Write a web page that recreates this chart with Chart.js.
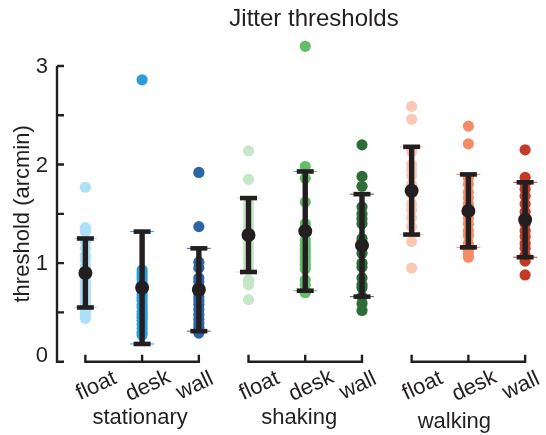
<!DOCTYPE html>
<html><head><meta charset="utf-8">
<script src="https://cdn.jsdelivr.net/npm/chart.js@4/dist/chart.umd.min.js"></script>
<style>html,body{margin:0;padding:0;background:#fff}#wrap{width:546px;height:435px}</style>
</head><body><div id="wrap"><canvas id="c" width="546" height="435"></canvas></div>
<script>
// ---------- data ----------
const chartTitle = 'Jitter thresholds';
const yAxisTitle = 'threshold (arcmin)';
const groups = ['stationary', 'shaking', 'walking'];
const conditions = ['float', 'desk', 'wall'];
const yTickLabels = [0, 1, 2, 3];

const stationaryFloat = [1.77, 1.36, 1.32, 1.22, 1.15, 1.08, 1.03, 0.97, 0.93, 0.88, 0.84, 0.80, 0.76, 0.72, 0.68, 0.64, 0.60, 0.56, 0.52, 0.48, 0.44];
const stationaryDesk  = [2.86, 0.93, 0.90, 0.87, 0.84, 0.80, 0.76, 0.72, 0.68, 0.65, 0.62, 0.58, 0.55, 0.51, 0.48, 0.45, 0.42, 0.38, 0.34, 0.30, 0.27];
const stationaryWall  = [1.92, 1.37, 1.01, 0.95, 0.85, 0.81, 0.76, 0.70, 0.66, 0.62, 0.58, 0.53, 0.48, 0.43, 0.39, 0.35, 0.31, 0.29];
const shakingFloat    = [2.14, 1.85, 1.60, 1.55, 1.50, 1.45, 1.40, 1.36, 1.30, 1.25, 1.20, 1.15, 1.10, 1.05, 1.00, 0.95, 0.83, 0.78, 0.63];
const shakingDesk     = [3.20, 1.98, 1.86, 1.62, 1.40, 1.30, 1.23, 1.18, 1.14, 1.10, 1.06, 1.02, 0.98, 0.94, 0.83, 0.78, 0.72, 0.70];
const shakingWall     = [2.20, 1.88, 1.78, 1.57, 1.50, 1.45, 1.40, 1.25, 1.20, 1.10, 1.00, 0.96, 0.85, 0.78, 0.75, 0.66, 0.59, 0.52];
const walkingFloat    = [2.59, 2.46, 2.13, 2.00, 1.95, 1.89, 1.80, 1.70, 1.60, 1.54, 1.46, 1.37, 1.22, 0.95];
const walkingDesk     = [2.39, 2.21, 1.86, 1.80, 1.72, 1.66, 1.60, 1.52, 1.46, 1.40, 1.33, 1.28, 1.20, 1.14, 1.10, 1.06];
const walkingWall     = [2.15, 1.87, 1.80, 1.75, 1.68, 1.60, 1.52, 1.46, 1.40, 1.33, 1.27, 1.20, 1.15, 1.08, 1.02, 0.88];

const means = [0.90, 0.75, 0.73, 1.285, 1.325, 1.18, 1.735, 1.53, 1.44];
const sds   = [0.35, 0.57, 0.42, 0.375, 0.605, 0.52, 0.445, 0.37, 0.38];

// ---------- styles ----------
const colors = ['#ace0f8', '#2b9ed9', '#2c63a9', '#c6e6c7', '#63bd68', '#2e6d39', '#fcc8b6', '#f58c67', '#c23b29'];
const ink = '#231f20';
const FONT = '"Liberation Sans", Arial, Helvetica, sans-serif';
const GROUP_GAP = 0.875;
const Y_AXIS_TOP = 3;      // axis line ends at 3
const Y_VIEW_TOP = 3.3;    // room for the outlier above the axis

const columns = [stationaryFloat, stationaryDesk, stationaryWall, shakingFloat, shakingDesk, shakingWall, walkingFloat, walkingDesk, walkingWall];
const posOf = (k) => Math.floor(k / 3) * (2 + GROUP_GAP) + (k % 3);

const datasets = [];
datasets.push({ label: 'mean', data: means.map((m, k) => ({ x: posOf(k), y: m })), pointRadius: 7, pointBackgroundColor: ink, pointBorderWidth: 0, showLine: false, order: 0, clip: false });
const capData = [];
means.forEach((m, k) => { capData.push({ x: posOf(k), y: m + sds[k] }); capData.push({ x: posOf(k), y: m - sds[k] }); });
datasets.push({ label: 'caps', data: capData, pointStyle: 'line', pointRadius: 8.5, pointBorderColor: ink, pointBorderWidth: 4.6, showLine: false, order: 1, clip: false });
const barData = [];
means.forEach((m, k) => { barData.push({ x: posOf(k), y: m - sds[k] }); barData.push({ x: posOf(k), y: m + sds[k] }); barData.push({ x: posOf(k), y: null }); });
datasets.push({ label: 'sd', data: barData, showLine: true, spanGaps: false, borderColor: ink, borderWidth: 5.4, borderCapStyle: 'butt', pointRadius: 0, order: 2, clip: false });
const thinCapColors = [];
means.forEach((m, k) => { thinCapColors.push(colors[k], colors[k]); });
datasets.push({ label: 'thin caps', data: capData, pointStyle: 'line', pointRadius: 12, pointBorderColor: thinCapColors, pointBorderWidth: 1, showLine: false, order: 3, clip: false });
columns.forEach((vals, k) => {
  datasets.push({ label: groups[Math.floor(k / 3)] + ' ' + conditions[k % 3], data: vals.map(v => ({ x: posOf(k), y: v })),
    pointRadius: 5.6, pointBackgroundColor: colors[k], pointBorderWidth: 0, showLine: false, order: 4, clip: false });
});

const labelDx = [11, 6, -4];

const decor = {
  id: 'decor',
  beforeDatasetsDraw(chart) {
    const ctx = chart.ctx, xs = chart.scales.x, ys = chart.scales.y;
    ctx.save();
    ctx.strokeStyle = ink; ctx.lineWidth = 2.4; ctx.lineCap = 'butt';
    const ax = chart.chartArea.left;
    ctx.beginPath();
    ctx.moveTo(ax, ys.getPixelForValue(Y_AXIS_TOP)); ctx.lineTo(ax, ys.getPixelForValue(0) + 1.2);
    for (let v = 0; v <= Y_AXIS_TOP; v += 0.5) { const py = ys.getPixelForValue(v); ctx.moveTo(ax, py); ctx.lineTo(ax + 7, py); }
    ctx.stroke();
    const by = ys.getPixelForValue(0);
    ctx.beginPath();
    for (let g = 0; g < groups.length; g++) {
      const x0 = xs.getPixelForValue(posOf(g * 3)), x2 = xs.getPixelForValue(posOf(g * 3 + 2));
      ctx.moveTo(x0 - 1.2, by); ctx.lineTo(x2 + 1.2, by);
      for (let i = 0; i < 3; i++) { const px = xs.getPixelForValue(posOf(g * 3 + i)); ctx.moveTo(px, by); ctx.lineTo(px, by - 7); }
    }
    ctx.stroke();
    ctx.restore();
  },
  afterDraw(chart) {
    const ctx = chart.ctx, xs = chart.scales.x, ys = chart.scales.y;
    ctx.save();
    ctx.fillStyle = ink;
    ctx.font = '24px ' + FONT; ctx.textAlign = 'center'; ctx.textBaseline = 'middle';
    ctx.fillText(chartTitle, 314, 19);
    ctx.font = '22px ' + FONT; ctx.textAlign = 'right'; ctx.textBaseline = 'middle';
    yTickLabels.forEach(v => { const py = ys.getPixelForValue(v) + (v === 0 ? -6 : 1); ctx.fillText(String(v), 48, py); });
    ctx.save(); ctx.translate(23, (ys.getPixelForValue(0) + ys.getPixelForValue(Y_AXIS_TOP)) / 2); ctx.rotate(-Math.PI / 2);
    ctx.textAlign = 'center'; ctx.textBaseline = 'middle'; ctx.fillText(yAxisTitle, 0, 0); ctx.restore();
    for (let k = 0; k < 9; k++) {
      const px = xs.getPixelForValue(posOf(k));
      ctx.save(); ctx.translate(px + labelDx[k % 3], 386); ctx.rotate(-25 * Math.PI / 180);
      ctx.textAlign = 'center'; ctx.textBaseline = 'middle'; ctx.fillText(conditions[k % 3], 0, 0); ctx.restore();
    }
    ctx.textAlign = 'center'; ctx.textBaseline = 'middle';
    const gOff = [-2, -6, -14];
    groups.forEach((g, i) => { const px = xs.getPixelForValue(posOf(i * 3 + 1)); ctx.fillText(g, px + gOff[i], i === 2 ? 422 : 418); });
    ctx.restore();
  }
};

const unitPx = (361.7 - 66) / Y_AXIS_TOP;
new Chart(document.getElementById('c'), {
  type: 'scatter',
  data: { datasets },
  options: {
    responsive: false, devicePixelRatio: 1, animation: false,
    layout: { padding: { left: 57, right: 0, top: 66 - (Y_VIEW_TOP - Y_AXIS_TOP) * unitPx, bottom: 435 - 361.7 } },
    plugins: { legend: { display: false }, tooltip: { enabled: false }, title: { display: false } },
    elements: { point: { hoverRadius: 0 } },
    scales: {
      x: { type: 'linear', min: -0.5, max: 7.887, display: false },
      y: { type: 'linear', min: 0, max: Y_VIEW_TOP, display: false }
    }
  },
  plugins: [decor]
});
</script></body></html>
